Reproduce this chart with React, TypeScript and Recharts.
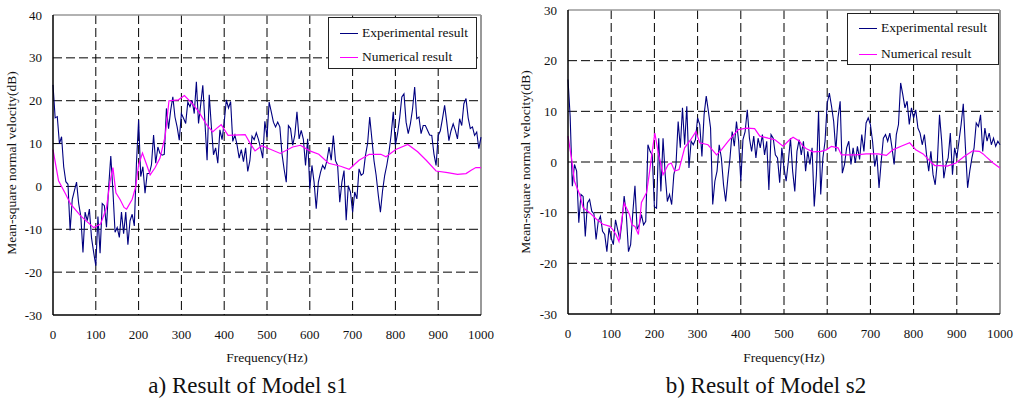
import React from 'react';
import { LineChart, Line, XAxis, YAxis, CartesianGrid, ReferenceLine } from 'recharts';

const FREQ_TICKS = [0, 100, 200, 300, 400, 500, 600, 700, 800, 900, 1000];
const S1_Y_TICKS = [-30, -20, -10, 0, 10, 20, 30, 40];
const S2_Y_TICKS = [-30, -20, -10, 0, 10, 20, 30];

// Model s1 – experimental result, sampled every 5 Hz (0..1000)
const s1Exp = [
  23.7, 16, 16.3, 10, 11.6, 4.6, 1.1, 0.5, -10.3, -3, -1, 1, -4, -7, -15.4, -6, -8, -5.3, -12, -15.4,
  -18.5, -7, -15.6, -4, -4.5, -9.5, -0.2, 7.1, -1, -10.7, -9.6, -11.9, -6, -11, -6, -13.6, -8, -6.5, -9.2, 5.4,
  15.5, 2.3, 4.6, -1.6, 3, 3, 5, 12, 5.4, 9.2, 7.7, 7.3, 7.5, 18.2, 13.5, 17.8, 20.9, 16.2, 13.9, 10.8,
  17, 15.9, 14.7, 19.7, 18.6, 20.1, 17, 24.4, 14.7, 19, 23.6, 15, 6.1, 21.4, 14, 7.4, 9, 5.4, 13.2, 10.9,
  15, 20.2, 18.3, 19.8, 10.5, 12, 9.7, 6.6, 8.6, 5.8, 9, 3.5, 6, 11.7, 10.9, 12.5, 11, 9, 6.6, 15.2,
  11.5, 19.7, 17.4, 15, 13.9, 15, 13.9, 7.6, 4, 1, 14.2, 13.5, 9.6, 12, 17.4, 11.1, 13.1, 11, 4.9, 11.1,
  -0.5, 4.9, 1, -5.2, 1, 3.3, 4.9, 4.1, 6, 9.2, 6.1, 11.9, 6, 4.9, -3.7, 1, 3.7, -7.9, 0.2, -1.3,
  -6, -1.3, -2.9, 4.1, 2.6, 3, 7.2, 10, 16.2, 11.1, 6, 2.6, -2, -6, -1, 2.6, 5, 8, 12, 17.4,
  9.6, 12.3, 16, 20.9, 21.6, 15, 12.3, 14.6, 18, 23.2, 15.8, 16.2, 12.3, 14.2, 14.2, 13.1, 12, 11.9, 7.6, 4.9,
  11.9, 13, 15.8, 18.9, 15, 10.7, 13, 14.6, 13.1, 11.1, 15.8, 14.2, 19.3, 20.5, 16, 13.5, 13.9, 11.9, 12.7, 8.8,
  11.5,
];

// Model s1 – numerical result
const s1NumFreq = [0, 13, 30, 41, 64, 95, 111, 125, 133, 140, 147, 157, 166, 172, 185, 193, 200, 209, 219, 227, 238, 250, 262, 271, 293, 307, 324, 340, 359, 373, 383, 393, 409, 449, 461, 472, 488, 505, 531, 560, 578, 600, 621, 644, 672, 692, 715, 739, 766, 778, 801, 829, 852, 872, 895, 922, 945, 965, 977, 988, 1000];
const s1NumVal = [8.6, 1.3, -1.9, -4.1, -6.8, -9.6, -8.8, -5, 1, 4.4, -1.5, -3.1, -4.9, -5.3, -3, -0.2, 5, 7.8, 5, 2.7, 4.3, 6.6, 11.7, 20, 20.2, 21.2, 19.5, 17.5, 14.4, 12.7, 13.6, 14.4, 11.9, 12.1, 10, 8.3, 9.5, 8.8, 7.7, 9.2, 9.6, 8.3, 7.5, 5.4, 4.7, 4, 6.1, 7.5, 7.5, 6.9, 8.6, 9.8, 8.1, 6.1, 3.6, 3.2, 2.8, 3, 3.8, 4.4, 4.4];

// Model s2 – experimental result, sampled every 5 Hz (0..1000)
const s2Exp = [
  16.3, 9, -4.8, -0.5, -1.8, -12, -6.4, -6.8, -14.7, -8.1, -7.4, -9.7, -10.2, -15.3, -11.7, -10.7, -13.7, -14.3, -17.7, -13,
  -15, -16.3, -11.4, -13.4, -15.3, -11.7, -6.7, -10.4, -17.7, -16.3, -10, -4.7, -13.3, -12.4, -10.4, -12.4, -11.7, 3.4, 2.1, 1.4,
  -8.8, -9.1, 4.7, -5.8, 4.7, -2.5, -7.8, -6.4, -8.4, -2.5, -0.5, 8, 2.8, 10.7, 3.4, 11, -1.2, 4.1, 3.4, 4.4,
  8.7, 7.4, 1.1, 9.3, 13, 10, 6.7, -8.4, -3.8, -1.8, 3.4, 0.8, -4.5, -7.8, -3.2, 0.8, 6, 3.1, 8, 4.1,
  -3.8, 4.4, 6, 10.3, 4.7, 2.1, 5.1, 0.8, 4.7, 2.8, 5.4, 1.4, 4.1, -5.5, 5.4, 4.7, 1.4, 0.8, -4.1, 2.8,
  -1.2, -3.8, 0.1, 4.7, -1.8, -5.8, 2.1, 4.4, 1.4, 4.1, -1.8, 2.1, -0.5, 2.8, -8.8, -2.5, 10, -6.4, 0.8, 4.1,
  11.6, 13.6, 11, 8, 2.1, 8.7, 12, -2.2, -0.5, 2.8, 4.1, -0.5, 2.8, -0.2, 3.1, 0.5, 5.4, 2.1, 7.7, 8.7,
  7.4, 4.1, -0.9, 1.4, -5.1, 0.1, 4.7, 5.4, 4.1, 5.7, 2.8, -0.5, 5.4, 7.4, 15.6, 13.3, 10.7, 12, 7.4, 10.7,
  8.7, 10.3, 6.7, 5.7, 3.4, 5.4, 1.4, -1.8, 2.1, -2.5, -4.5, 0.1, 9.3, 4.1, -3.2, -0.5, 0.8, 5.7, -2.5, 2.8,
  0.8, 4.1, 7.4, 11.5, 2.8, -5.1, -1.8, 0.8, 2.8, 7.7, 7, 9.3, 2.1, 6.7, 4.1, 5.7, 3.4, 4.7, 3.1, 4.1,
  3.4,
];

// Model s2 – numerical result
const s2NumFreq = [0, 8, 15, 27, 35, 50, 66, 81, 97, 104, 111, 118, 124, 130, 142, 148, 155, 163, 170, 182, 189, 195, 201, 209, 220, 232, 239, 247, 257, 270, 284, 296, 305, 324, 344, 355, 371, 394, 413, 432, 444, 463, 479, 498, 513, 521, 536, 544, 552, 567, 586, 598, 610, 625, 633, 667, 690, 718, 737, 752, 771, 791, 805, 822, 840, 849, 860, 878, 898, 917, 937, 952, 961, 967, 984, 1000];
const s2NumVal = [5.1, 0.8, -3.8, -6.4, -9, -10, -11.3, -12.3, -12.7, -13.4, -14.3, -15.7, -11.7, -8.1, -10.3, -12.4, -12.7, -14.3, -8, -6, -1.8, 2.1, 5.7, 1.8, -2.5, -0.5, -0.2, -1.8, -1.5, 2.8, 4.4, 6, 3.8, 3.4, 1.4, 2.4, 4.1, 6.4, 6.7, 6.6, 5.1, 4.7, 4.4, 3.1, 4.4, 4.9, 4.1, 3.1, 2.6, 2, 2.1, 2.4, 3.1, 2.8, 1.4, 1.4, 1.6, 1.6, 1.3, 2.4, 3.1, 3.8, 2.4, 1.6, 0, -0.7, -0.7, -0.8, -0.2, 1.1, 2.2, 2.1, 1.6, 1.1, -0.2, -1.2];

const toSeries = (vals: number[]) => vals.map((v, i) => ({ f: i * 5, v }));
const toPairs = (fs: number[], vs: number[]) => fs.map((f, i) => ({ f, v: vs[i] }));

const FONT = '"Liberation Serif", "Times New Roman", serif';
const EXP_COLOR = '#000080';
const NUM_COLOR = '#FF00FF';

type PanelProps = {
  left: number;
  width: number;
  marginTop: number;
  marginLeft: number;
  marginRight: number;
  marginBottom: number;
  yDomain: [number, number];
  yTicks: number[];
  exp: { f: number; v: number }[];
  num: { f: number; v: number }[];
};

function Panel(p: PanelProps) {
  const gridY = p.yTicks.slice(1, -1);
  const gridX = FREQ_TICKS.slice(1, -1);
  const tick = { fontFamily: FONT, fontSize: 13, fill: '#111' };
  return (
    <div style={{ position: 'absolute', left: p.left, top: 0 }}>
      <LineChart
        width={p.width}
        height={403}
        margin={{ top: p.marginTop, right: p.marginRight, bottom: p.marginBottom, left: p.marginLeft }}
      >
        <CartesianGrid
          stroke="#000"
          strokeDasharray="9 4"
          horizontalValues={gridY}
          verticalValues={gridX}
        />
        <XAxis
          type="number"
          dataKey="f"
          domain={[0, 1000]}
          ticks={FREQ_TICKS}
          allowDuplicatedCategory={false}
          height={30}
          tickLine={false}
          tickSize={6}
          tickMargin={9}
          axisLine={{ stroke: '#000', strokeWidth: 1.5 }}
          tick={tick}
          interval={0}
        />
        <YAxis
          type="number"
          domain={p.yDomain}
          ticks={p.yTicks}
          width={40}
          tickLine={false}
          tickSize={6}
          tickMargin={5}
          axisLine={{ stroke: '#000', strokeWidth: 1.5 }}
          tick={tick}
          interval={0}
        />
        <ReferenceLine y={p.yDomain[1]} stroke="#999" strokeWidth={1.5} />
        <ReferenceLine x={1000} stroke="#999" strokeWidth={2} />
        <Line
          data={p.exp}
          dataKey="v"
          stroke={EXP_COLOR}
          strokeWidth={1.1}
          dot={false}
          isAnimationActive={false}
        />
        <Line
          data={p.num}
          dataKey="v"
          stroke={NUM_COLOR}
          strokeWidth={1.2}
          dot={false}
          isAnimationActive={false}
        />
      </LineChart>
    </div>
  );
}

function LegendBox({ left, top, width, height, row1, row2 }: { left: number; top: number; width: number; height: number; row1: number; row2: number }) {
  const item = (y: number, color: string, label: string) => (
    <div style={{ position: 'absolute', left: 0, top: y - 10, height: 20, display: 'flex', alignItems: 'center' }}>
      <div style={{ width: 18, height: 0, borderTop: `1.5px solid ${color}`, marginLeft: 11, marginRight: 4 }} />
      <span style={{ fontFamily: FONT, fontSize: 13.5, color: '#111', whiteSpace: 'nowrap' }}>{label}</span>
    </div>
  );
  return (
    <div
      style={{
        position: 'absolute',
        left,
        top,
        width,
        height,
        boxSizing: 'border-box',
        border: '1px solid #222',
        background: '#fff',
      }}
    >
      {item(row1 - top, EXP_COLOR, 'Experimental result')}
      {item(row2 - top, NUM_COLOR, 'Numerical result')}
    </div>
  );
}

function TextAt({ x, y, size, text, rotate }: { x: number; y: number; size: number; text: string; rotate?: boolean }) {
  return (
    <div
      style={{
        position: 'absolute',
        left: x,
        top: y,
        transform: `translate(-50%, -50%)${rotate ? ' rotate(-90deg)' : ''}`,
        fontFamily: FONT,
        fontSize: size,
        color: '#111',
        whiteSpace: 'nowrap',
        lineHeight: 1,
      }}
    >
      {text}
    </div>
  );
}

export default function App() {
  return (
    <div style={{ position: 'absolute', left: 0, top: 0, width: 1024, height: 403, background: '#fff', overflow: 'hidden' }}>
      <Panel
        left={0}
        width={500}
        marginTop={15}
        marginLeft={13}
        marginRight={19}
        marginBottom={58}
        yDomain={[-30, 40]}
        yTicks={S1_Y_TICKS}
        exp={toSeries(s1Exp)}
        num={toPairs(s1NumFreq, s1NumVal)}
      />
      <Panel
        left={510}
        width={514}
        marginTop={10}
        marginLeft={18}
        marginRight={24}
        marginBottom={59}
        yDomain={[-30, 30]}
        yTicks={S2_Y_TICKS}
        exp={toSeries(s2Exp)}
        num={toPairs(s2NumFreq, s2NumVal)}
      />
      <LegendBox left={328} top={17} width={149} height={52} row1={32} row2={56} />
      <LegendBox left={847} top={13} width={152} height={52} row1={27} row2={53} />
      <TextAt x={12} y={163} size={13.5} text="Mean-square normal velocity(dB)" rotate />
      <TextAt x={526} y={162} size={13.5} text="Mean-square normal velocity(dB)" rotate />
      <TextAt x={267} y={358} size={13.5} text="Frequency(Hz)" />
      <TextAt x={784} y={358} size={13.5} text="Frequency(Hz)" />
      <TextAt x={248} y={385} size={23} text="a) Result of Model s1" />
      <TextAt x={766} y={385} size={23} text="b) Result of Model s2" />
    </div>
  );
}
